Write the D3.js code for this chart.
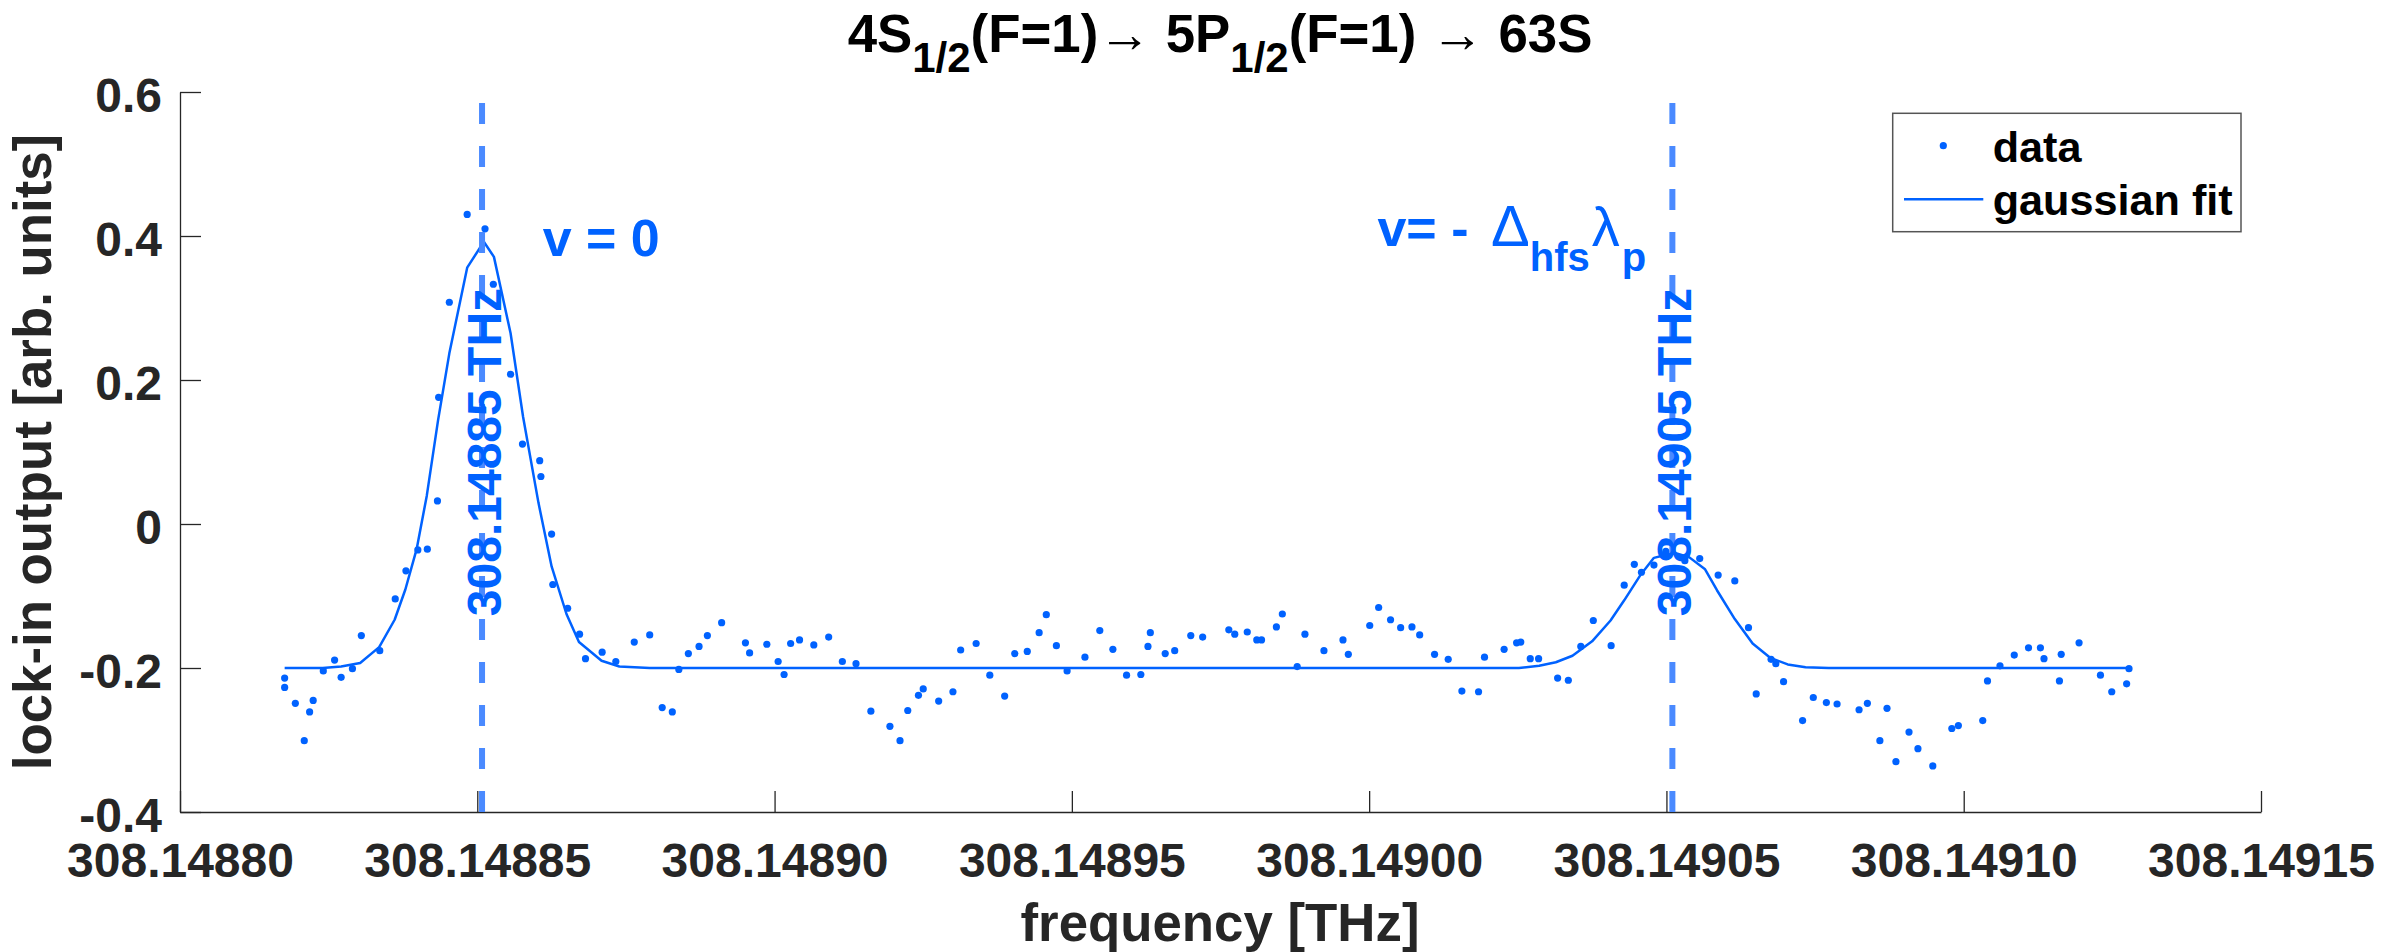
<!DOCTYPE html>
<html>
<head>
<meta charset="utf-8">
<script src="https://d3js.org/d3.v7.min.js"></script>
<style>
  body { margin: 0; background: #ffffff; }
  svg text { font-family: "Liberation Sans", Arial, Helvetica, sans-serif; font-weight: bold; }
</style>
</head>
<body>
<div id="my_dataviz"></div>
<script>

// scan points: laser frequency [THz] and lock-in signal [arb. units]
var freq = [
  308.1488176, 308.1488176, 308.1488194, 308.1488209, 308.1488218, 308.1488224, 308.1488241, 308.1488260,
  308.1488271, 308.1488290, 308.1488305, 308.1488336, 308.1488362, 308.1488380, 308.1488400, 308.1488416,
  308.1488433, 308.1488435, 308.1488453, 308.1488483, 308.1488513, 308.1488527, 308.1488556, 308.1488576,
  308.1488605, 308.1488607, 308.1488625, 308.1488627, 308.1488652, 308.1488672, 308.1488682, 308.1488710,
  308.1488733, 308.1488764, 308.1488790, 308.1488811, 308.1488828, 308.1488839, 308.1488855, 308.1488873,
  308.1488887, 308.1488911, 308.1488951, 308.1488958, 308.1488987, 308.1489006, 308.1489016, 308.1489027,
  308.1489042, 308.1489066, 308.1489091, 308.1489114, 308.1489137, 308.1489162, 308.1489194, 308.1489211,
  308.1489224, 308.1489242, 308.1489250, 308.1489276, 308.1489300, 308.1489313, 308.1489339, 308.1489362,
  308.1489387, 308.1489404, 308.1489425, 308.1489445, 308.1489457, 308.1489474, 308.1489492, 308.1489522,
  308.1489547, 308.1489569, 308.1489592, 308.1489616, 308.1489628, 308.1489632, 308.1489657, 308.1489673,
  308.1489700, 308.1489720, 308.1489764, 308.1489774, 308.1489795, 308.1489811, 308.1489819, 308.1489844,
  308.1489854, 308.1489879, 308.1489892, 308.1489924, 308.1489956, 308.1489965, 308.1490001, 308.1490016,
  308.1490036, 308.1490053, 308.1490072, 308.1490085, 308.1490110, 308.1490133, 308.1490156, 308.1490184,
  308.1490194, 308.1490227, 308.1490248, 308.1490255, 308.1490271, 308.1490285, 308.1490317, 308.1490335,
  308.1490356, 308.1490377, 308.1490407, 308.1490429, 308.1490446, 308.1490458, 308.1490479, 308.1490499,
  308.1490531, 308.1490556, 308.1490587, 308.1490615, 308.1490638, 308.1490651, 308.1490676, 308.1490684,
  308.1490697, 308.1490729, 308.1490747, 308.1490769, 308.1490787, 308.1490824, 308.1490838, 308.1490859,
  308.1490871, 308.1490886, 308.1490908, 308.1490923, 308.1490948, 308.1490980, 308.1490991, 308.1491032,
  308.1491040, 308.1491061, 308.1491085, 308.1491109, 308.1491129, 308.1491135, 308.1491161, 308.1491164,
  308.1491194, 308.1491230, 308.1491249, 308.1491274, 308.1491278
];
var signal = [
  -0.214, -0.227, -0.249, -0.301, -0.261, -0.245, -0.204, -0.189,
  -0.213, -0.201, -0.155, -0.176, -0.104, -0.065, -0.036, -0.035,
   0.032,  0.176,  0.308,  0.430,  0.410,  0.333,  0.208,  0.111,
   0.088,  0.066, -0.014, -0.084, -0.117, -0.153, -0.187, -0.178,
  -0.191, -0.164, -0.154, -0.255, -0.261, -0.202, -0.180, -0.170,
  -0.155, -0.137, -0.165, -0.179, -0.167, -0.191, -0.209, -0.166,
  -0.161, -0.168, -0.157, -0.191, -0.194, -0.260, -0.281, -0.301,
  -0.259, -0.238, -0.229, -0.246, -0.233, -0.175, -0.166, -0.210,
  -0.239, -0.180, -0.177, -0.151, -0.126, -0.169, -0.204, -0.185,
  -0.148, -0.174, -0.210, -0.209, -0.170, -0.151, -0.180, -0.176,
  -0.155, -0.157, -0.147, -0.153, -0.150, -0.161, -0.161, -0.143,
  -0.125, -0.198, -0.153, -0.176, -0.161, -0.181, -0.141, -0.116,
  -0.133, -0.144, -0.143, -0.154, -0.181, -0.188, -0.232, -0.233,
  -0.185, -0.174, -0.165, -0.164, -0.187, -0.187, -0.214, -0.217,
  -0.170, -0.134, -0.169, -0.085, -0.056, -0.067, -0.057, -0.038,
  -0.051, -0.048, -0.071, -0.079, -0.144, -0.236, -0.188, -0.194,
  -0.219, -0.273, -0.241, -0.248, -0.250, -0.258, -0.249, -0.301,
  -0.256, -0.330, -0.289, -0.312, -0.336, -0.284, -0.280, -0.273,
  -0.218, -0.197, -0.182, -0.172, -0.172, -0.187, -0.218, -0.181,
  -0.165, -0.210, -0.233, -0.222, -0.201
];

// gaussian fit curve, vertices
var fitFreq = [
  308.1488176, 308.1488240, 308.1488271, 308.1488303, 308.1488335, 308.1488361, 308.1488379, 308.1488398,
  308.1488415, 308.1488434, 308.1488453, 308.1488483, 308.1488511, 308.1488528, 308.1488556, 308.1488577,
  308.1488603, 308.1488625, 308.1488650, 308.1488671, 308.1488709, 308.1488739, 308.1488790, 308.1490252,
  308.1490286, 308.1490314, 308.1490342, 308.1490375, 308.1490406, 308.1490429, 308.1490457, 308.1490479,
  308.1490513, 308.1490538, 308.1490565, 308.1490585, 308.1490615, 308.1490645, 308.1490675, 308.1490704,
  308.1490734, 308.1490773, 308.1491278
];
var fitSignal = [
  -0.200, -0.200, -0.198, -0.193, -0.171, -0.133, -0.091, -0.035,
   0.039,  0.144,  0.237,  0.356,  0.392,  0.371,  0.265,  0.149,
   0.029, -0.059, -0.125, -0.164, -0.190, -0.198, -0.200, -0.200,
  -0.197, -0.192, -0.183, -0.163, -0.134, -0.106, -0.070, -0.047,
  -0.040, -0.046, -0.063, -0.092, -0.132, -0.166, -0.186, -0.195,
  -0.199, -0.200, -0.200
];

// line centres (dashed markers) and their labels
var lineFreq = [308.1488508, 308.1490510];
var lineLabels = ["308.14885 THz", "308.14905 THz"];

var xTicks = [308.14880, 308.14885, 308.14890, 308.14895, 308.14900, 308.14905, 308.14910, 308.14915];
var xTickLabels = ["308.14880", "308.14885", "308.14890", "308.14895", "308.14900", "308.14905", "308.14910", "308.14915"];
var yTicks = [0.6, 0.4, 0.2, 0, -0.2, -0.4];
var yTickLabels = ["0.6", "0.4", "0.2", "0", "-0.2", "-0.4"];
var legendLabels = ["data", "gaussian fit"];

var blue = "#0062ff",
    dashBlue = "#4a8aff",
    axisColor = "#262626";

// plot box in page pixels
var margin = {top: 92, left: 180},
    width = 2081,
    height = 720;

var svg = d3.select("#my_dataviz")
  .append("svg")
    .attr("width", 2392)
    .attr("height", 952);

var g = svg.append("g")
    .attr("transform", "translate(" + margin.left + "," + margin.top + ")");

var x = d3.scaleLinear()
  .domain([xTicks[0], xTicks[xTicks.length - 1]])
  .range([0, width]);

var y = d3.scaleLinear()
  .domain([-0.4, 0.6])
  .range([height, 0]);

// X axis, ticks pointing inside
var xAxis = g.append("g")
    .attr("transform", "translate(0," + height + ")")
    .call(d3.axisBottom(x)
      .tickValues(xTicks)
      .tickFormat(function(d, i) { return xTickLabels[i]; })
      .tickSizeInner(-21)
      .tickSizeOuter(0)
      .tickPadding(31));

// Y axis
var yAxis = g.append("g")
    .call(d3.axisLeft(y)
      .tickValues(yTicks)
      .tickFormat(function(d, i) { return yTickLabels[i]; })
      .tickSizeInner(-21)
      .tickSizeOuter(0)
      .tickPadding(18));

[xAxis, yAxis].forEach(function(a) {
  a.attr("font-size", 48)
    .attr("font-family", null);
  a.selectAll("path, line")
    .attr("stroke", axisColor)
    .attr("stroke-width", 1.3);
  a.selectAll("text")
    .attr("fill", axisColor);
});
yAxis.selectAll("text").attr("dy", "0.41em");

// data points
g.append("g")
  .selectAll("circle")
  .data(freq)
  .enter()
  .append("circle")
    .attr("cx", function(d) { return x(d); })
    .attr("cy", function(d, i) { return y(signal[i]); })
    .attr("r", 3.6)
    .attr("fill", blue);

// fit
var line = d3.line()
  .x(function(d) { return x(d); })
  .y(function(d, i) { return y(fitSignal[i]); });

g.append("path")
  .datum(fitFreq)
  .attr("d", line)
  .attr("fill", "none")
  .attr("stroke", blue)
  .attr("stroke-width", 2.5)
  .attr("stroke-linejoin", "round");

// dashed markers at the two line centres
g.selectAll(".marker")
  .data(lineFreq)
  .enter()
  .append("line")
    .attr("class", "marker")
    .attr("x1", function(d) { return x(d); })
    .attr("x2", function(d) { return x(d); })
    .attr("y1", y(-0.4))
    .attr("y2", y(0.6))
    .attr("stroke", dashBlue)
    .attr("stroke-width", 6)
    .attr("stroke-dasharray", "21,22");

g.selectAll(".markerLabel")
  .data(lineFreq)
  .enter()
  .append("text")
    .attr("class", "markerLabel")
    .attr("transform", function(d) { return "translate(" + (x(d) + 19) + "," + y(-0.128) + ") rotate(-90)"; })
    .attr("font-size", 48)
    .attr("fill", blue)
    .text(function(d, i) { return lineLabels[i]; });

// annotations
g.append("text")
  .attr("x", x(308.1488610))
  .attr("y", y(0.372))
  .attr("font-size", 52)
  .attr("fill", blue)
  .attr("xml:space", "preserve")
  .text("v = 0");

var ann = g.append("text")
  .attr("x", x(308.1490014))
  .attr("y", y(0.3865))
  .attr("font-size", 52)
  .attr("fill", blue)
  .attr("xml:space", "preserve");
ann.append("tspan").text("v= - ");
ann.append("tspan").attr("font-weight", "normal").attr("font-size", 58).attr("dx", 8).text("\u0394");
ann.append("tspan").attr("font-size", 40).attr("dy", 25).text("hfs");
ann.append("tspan").attr("font-weight", "normal").attr("font-size", 56).attr("dx", 2).attr("dy", -25).text("\u03bb");
ann.append("tspan").attr("font-size", 40).attr("dx", 2).attr("dy", 25).text("p");

// title
var title = svg.append("text")
  .attr("x", 1220)
  .attr("y", 52)
  .attr("text-anchor", "middle")
  .attr("font-size", 52.8)
  .attr("fill", "#000")
  .attr("xml:space", "preserve");
title.append("tspan").text("4S");
title.append("tspan").attr("font-size", 42).attr("dy", 20).text("1/2");
title.append("tspan").attr("dy", -20).text("(F=1)");
title.append("tspan").attr("font-weight", "normal").text("\u2192");
title.append("tspan").text(" 5P");
title.append("tspan").attr("font-size", 42).attr("dy", 20).text("1/2");
title.append("tspan").attr("dy", -20).text("(F=1) ");
title.append("tspan").attr("font-weight", "normal").text("\u2192");
title.append("tspan").text(" 63S");

// axis labels
svg.append("text")
  .attr("x", 1220)
  .attr("y", 941)
  .attr("text-anchor", "middle")
  .attr("font-size", 52.8)
  .attr("fill", axisColor)
  .text("frequency [THz]");

svg.append("text")
  .attr("transform", "translate(51,452) rotate(-90)")
  .attr("text-anchor", "middle")
  .attr("font-size", 52.8)
  .attr("fill", axisColor)
  .text("lock-in output [arb. units]");

// legend
var legend = svg.append("g");
legend.append("rect")
  .attr("x", 1892.7)
  .attr("y", 113.3)
  .attr("width", 348.3)
  .attr("height", 118.4)
  .attr("fill", "#fff")
  .attr("stroke", "#555")
  .attr("stroke-width", 1.5);
legend.append("circle")
  .attr("cx", 1943.3)
  .attr("cy", 145.7)
  .attr("r", 3.6)
  .attr("fill", blue);
legend.append("line")
  .attr("x1", 1904)
  .attr("x2", 1983.3)
  .attr("y1", 199.3)
  .attr("y2", 199.3)
  .attr("stroke", blue)
  .attr("stroke-width", 2.5);
legend.selectAll(".legText")
  .data(legendLabels)
  .enter()
  .append("text")
    .attr("class", "legText")
    .attr("x", 1992.7)
    .attr("y", function(d, i) { return i == 0 ? 161.5 : 215; })
    .attr("font-size", 43.2)
    .attr("fill", "#000")
    .text(function(d) { return d; });

</script>
</body>
</html>
